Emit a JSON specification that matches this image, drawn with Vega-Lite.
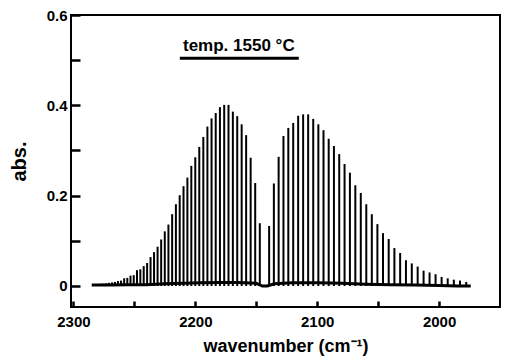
{
  "$schema": "https://vega.github.io/schema/vega-lite/v6.json",
  "width": 429,
  "height": 292,
  "autosize": "none",
  "padding": {"left": 71, "top": 15, "right": 7, "bottom": 50},
  "background": "white",
  "config": {
    "view": {"stroke": "black", "strokeWidth": 2},
    "axis": {
      "domain": false, "grid": false, "ticks": true,
      "labelFont": "Liberation Sans", "labelFontWeight": "bold", "labelColor": "black", "labelFontSize": 15,
      "titleFont": "Liberation Sans", "titleFontWeight": "bold", "titleColor": "black",
      "tickColor": "black", "tickWidth": 2.5, "tickOpacity": 1, "labelOverlap": false, "labelFlush": false
    }
  },
  "datasets": {
    "lines": [
      {"nu": 2147.08, "abs": 0.139}, {"nu": 2150.86, "abs": 0.228}, {"nu": 2154.60, "abs": 0.284}, {"nu": 2158.30, "abs": 0.334},
      {"nu": 2161.97, "abs": 0.358}, {"nu": 2165.61, "abs": 0.376}, {"nu": 2169.20, "abs": 0.386}, {"nu": 2172.77, "abs": 0.401},
      {"nu": 2176.30, "abs": 0.401}, {"nu": 2179.80, "abs": 0.396}, {"nu": 2183.26, "abs": 0.383}, {"nu": 2186.68, "abs": 0.371},
      {"nu": 2190.07, "abs": 0.353}, {"nu": 2193.43, "abs": 0.330}, {"nu": 2196.75, "abs": 0.308}, {"nu": 2200.03, "abs": 0.285},
      {"nu": 2203.28, "abs": 0.266}, {"nu": 2206.50, "abs": 0.240}, {"nu": 2209.68, "abs": 0.221}, {"nu": 2212.82, "abs": 0.201},
      {"nu": 2215.93, "abs": 0.181}, {"nu": 2219.01, "abs": 0.159}, {"nu": 2222.05, "abs": 0.136}, {"nu": 2225.05, "abs": 0.121},
      {"nu": 2228.02, "abs": 0.103}, {"nu": 2230.96, "abs": 0.087}, {"nu": 2233.86, "abs": 0.075}, {"nu": 2236.72, "abs": 0.064},
      {"nu": 2239.55, "abs": 0.051}, {"nu": 2242.35, "abs": 0.044}, {"nu": 2245.11, "abs": 0.037}, {"nu": 2247.83, "abs": 0.035},
      {"nu": 2250.52, "abs": 0.024}, {"nu": 2253.18, "abs": 0.023}, {"nu": 2255.80, "abs": 0.018}, {"nu": 2258.38, "abs": 0.017},
      {"nu": 2260.93, "abs": 0.012}, {"nu": 2263.45, "abs": 0.011}, {"nu": 2265.93, "abs": 0.009}, {"nu": 2268.37, "abs": 0.008},
      {"nu": 2270.78, "abs": 0.007}, {"nu": 2273.16, "abs": 0.006}, {"nu": 2275.50, "abs": 0.005}, {"nu": 2277.80, "abs": 0.005},
      {"nu": 2280.07, "abs": 0.004}, {"nu": 2282.31, "abs": 0.004},
      {"nu": 2139.43, "abs": 0.133}, {"nu": 2135.55, "abs": 0.227}, {"nu": 2131.63, "abs": 0.286}, {"nu": 2127.68, "abs": 0.332},
      {"nu": 2123.70, "abs": 0.350}, {"nu": 2119.68, "abs": 0.361}, {"nu": 2115.62, "abs": 0.377}, {"nu": 2111.53, "abs": 0.380},
      {"nu": 2107.41, "abs": 0.380}, {"nu": 2103.25, "abs": 0.370}, {"nu": 2099.05, "abs": 0.358}, {"nu": 2094.82, "abs": 0.345},
      {"nu": 2090.56, "abs": 0.326}, {"nu": 2086.26, "abs": 0.310}, {"nu": 2081.92, "abs": 0.292}, {"nu": 2077.55, "abs": 0.270},
      {"nu": 2073.15, "abs": 0.251}, {"nu": 2068.71, "abs": 0.223}, {"nu": 2064.23, "abs": 0.206}, {"nu": 2059.72, "abs": 0.181},
      {"nu": 2055.18, "abs": 0.159}, {"nu": 2050.60, "abs": 0.137}, {"nu": 2045.98, "abs": 0.117}, {"nu": 2041.33, "abs": 0.104},
      {"nu": 2036.65, "abs": 0.084}, {"nu": 2031.93, "abs": 0.073}, {"nu": 2027.17, "abs": 0.057}, {"nu": 2022.38, "abs": 0.050},
      {"nu": 2017.56, "abs": 0.043}, {"nu": 2012.70, "abs": 0.034}, {"nu": 2007.80, "abs": 0.030}, {"nu": 2002.87, "abs": 0.026},
      {"nu": 1997.91, "abs": 0.020}, {"nu": 1992.91, "abs": 0.017}, {"nu": 1987.87, "abs": 0.014}, {"nu": 1982.80, "abs": 0.012},
      {"nu": 1977.70, "abs": 0.009}
    ],
    "baseline": [
      {"nu": 2285, "abs": 0.002}, {"nu": 2270, "abs": 0.002}, {"nu": 2255, "abs": 0.003}, {"nu": 2240, "abs": 0.003},
      {"nu": 2225, "abs": 0.005}, {"nu": 2210, "abs": 0.006}, {"nu": 2195, "abs": 0.007}, {"nu": 2180, "abs": 0.008},
      {"nu": 2165, "abs": 0.008}, {"nu": 2150, "abs": 0.006}, {"nu": 2145, "abs": 0.0}, {"nu": 2141, "abs": 0.0},
      {"nu": 2135, "abs": 0.005}, {"nu": 2120, "abs": 0.007}, {"nu": 2100, "abs": 0.007}, {"nu": 2080, "abs": 0.006},
      {"nu": 2060, "abs": 0.004}, {"nu": 2040, "abs": 0.003}, {"nu": 2020, "abs": 0.002}, {"nu": 2000, "abs": 0.001},
      {"nu": 1985, "abs": 0.0}, {"nu": 1974, "abs": 0.0}
    ],
    "label": [{"nu": 2164.3, "abs": 0.521, "text": "temp. 1550 °C"}],
    "underline": [{"nu": 2212.7, "nu2": 2115.1, "abs": 0.504}]
  },
  "encoding": {
    "x": {
      "field": "nu", "type": "quantitative",
      "scale": {"domain": [1950, 2302], "reverse": true, "nice": false, "zero": false},
      "axis": {
        "values": [2300, 2250, 2200, 2150, 2100, 2050, 2000],
        "format": "d",
        "labelExpr": "datum.value % 100 === 0 ? datum.label : ''",
        "offset": -6, "tickSize": 6, "labelPadding": 7,
        "title": "wavenumber (cm⁻¹)", "titleFontSize": 18, "titlePadding": 8
      }
    },
    "y": {
      "field": "abs", "type": "quantitative",
      "scale": {"domain": [-0.0465, 0.6], "nice": false, "zero": false},
      "axis": {
        "values": [0, 0.1, 0.2, 0.3, 0.4, 0.5, 0.6],
        "labelExpr": "round(datum.value * 10) % 2 === 0 ? (datum.value === 0 ? '0' : format(datum.value, '.1f')) : ''",
        "offset": -9, "tickSize": 9, "labelPadding": 4,
        "title": "abs.", "titleFontSize": 20, "titlePadding": 17
      }
    }
  },
  "layer": [
    {
      "data": {"name": "lines"},
      "mark": {"type": "rule", "color": "black", "strokeWidth": 2},
      "encoding": {"y2": {"datum": 0}}
    },
    {
      "data": {"name": "baseline"},
      "mark": {"type": "line", "color": "black", "strokeWidth": 3},
      "encoding": {}
    },
    {
      "data": {"name": "label"},
      "mark": {"type": "text", "font": "Liberation Sans", "fontWeight": "bold", "fontSize": 17, "color": "black", "baseline": "alphabetic", "align": "center"},
      "encoding": {"text": {"field": "text"}}
    },
    {
      "data": {"name": "underline"},
      "mark": {"type": "rule", "color": "black", "strokeWidth": 3},
      "encoding": {"x2": {"field": "nu2"}}
    }
  ]
}
